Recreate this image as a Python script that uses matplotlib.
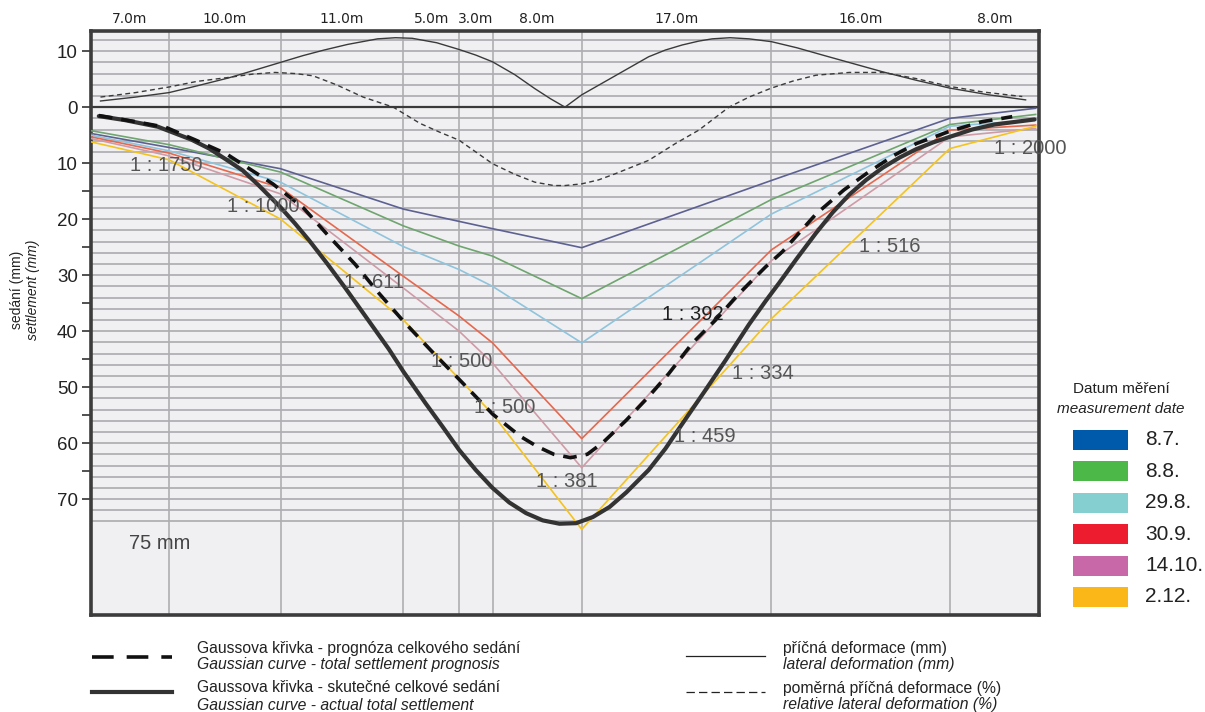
import matplotlib
matplotlib.use("Agg")
import matplotlib.pyplot as plt
import matplotlib.transforms as mtransforms
from matplotlib.lines import Line2D
from matplotlib.patches import Rectangle
import numpy as np

# segment lengths between measuring points (labels above the plot)
segment_lengths = [7.0, 10.0, 11.0, 5.0, 3.0, 8.0, 17.0, 16.0, 8.0]

# settlement (mm) of the dated measurements at the measuring points (m)
meas_x = [0, 7, 17, 28, 33, 36, 44, 61, 77, 84.7]
settle_0807 = [4.7, 7.2, 11.0, 18.2, 20.4, 21.7, 25.1, 13.1, 2.0, 0.2]
settle_0808 = [4.2, 6.7, 11.6, 21.2, 24.8, 26.6, 34.2, 16.5, 3.1, 1.3]
settle_2908 = [5.0, 7.8, 13.4, 24.9, 29.0, 32.0, 42.1, 19.1, 3.4, 2.3]
settle_3009 = [5.3, 8.2, 14.4, 30.2, 37.3, 42.1, 59.2, 25.5, 4.1, 3.2]
settle_1410 = [5.6, 8.7, 15.5, 32.3, 40.0, 45.7, 64.4, 27.4, 5.3, 3.8]
settle_0212 = [6.2, 9.4, 20.0, 38.0, 48.5, 54.8, 75.4, 37.8, 7.4, 3.4]
dates = ["8.7.", "8.8.", "29.8.", "30.9.", "14.10.", "2.12."]

# Gaussian curve - actual total settlement
actual_x = [0.7, 3, 6, 9, 10.6, 12, 13.6, 15, 17, 18.3, 19.6, 21.2, 22.8, 24.7,
            26.7, 28, 30, 31.5, 33, 34.5, 36, 37.5, 39, 40.5, 42, 43.5, 45, 46.5,
            48, 50, 51.5, 53, 55, 56.9, 59, 60.5, 61.7, 63.3, 65, 66.5, 68, 69.5,
            71, 72.5, 74, 75.5, 77, 79, 81, 84.6]
actual_y = [1.6, 2.3, 3.5, 5.8, 7.4, 9.2, 11.3, 13.9, 17.9, 20.8, 23.9, 28.0, 32.3,
            37.6, 43.2, 47.2, 52.9, 57.0, 61.2, 64.8, 68.0, 70.6, 72.5, 73.8, 74.4,
            74.3, 73.2, 71.4, 68.8, 64.8, 61.0, 56.6, 50.8, 45.2, 38.8, 34.6, 31.4,
            27.0, 22.5, 18.8, 15.6, 13.0, 10.8, 9.0, 7.5, 6.3, 5.3, 4.0, 3.1, 2.2]

# Gaussian curve - total settlement prognosis
prog_x = [0.7, 4, 6.7, 9.4, 12.1, 14.2, 16.3, 19, 21.3, 23.7, 25.8, 28, 30.5, 33,
          36, 38.5, 40, 41.5, 43, 44.5, 45.9, 48, 50, 51.8, 53.9, 56, 58.1, 60.5,
          62, 65, 67.5, 69.5, 72, 74, 77, 79.9, 82.6]
prog_y = [1.5, 2.6, 3.6, 5.9, 8.3, 11.0, 13.7, 17.9, 23.0, 28.1, 33.2, 38.2, 43.5,
          48.6, 54.8, 58.8, 60.6, 62.0, 62.6, 62.0, 59.9, 55.9, 51.7, 47.6, 42.2,
          38.0, 33.3, 28.5, 25.8, 19.1, 14.8, 11.9, 8.6, 6.5, 4.3, 2.6, 1.7]

# lateral deformation (mm, upward)
lat_x = [0.85, 4, 7, 9.5, 12.3, 14.5, 17, 19, 20.9, 23, 25.7, 27.3, 28.8, 31, 33,
         34.5, 36, 38, 39.8, 41.2, 42.5, 44, 47, 50, 51.5, 53, 54.5, 55.7, 57.3,
         59, 61, 63.3, 65.6, 68.3, 71, 74, 77, 80.5, 83.8]
lat_y = [1.1, 1.8, 2.6, 3.8, 5.2, 6.5, 8.0, 9.2, 10.2, 11.2, 12.2, 12.4, 12.3, 11.5,
         10.3, 9.3, 8.1, 5.8, 3.3, 1.5, 0.0, 2.2, 5.6, 9.0, 10.2, 11.1, 11.8, 12.2,
         12.4, 12.2, 11.7, 10.6, 9.3, 7.8, 6.3, 4.8, 3.4, 2.2, 1.3]

# relative lateral deformation (%)
rel_x = [0.85, 4, 7, 9.5, 12.3, 14.5, 16.5, 18.3, 19.9, 22, 24.4, 27.1, 29.5, 31.3,
         33, 34.5, 36, 38, 39.8, 41.5, 42.5, 44, 45.5, 47, 50, 52.4, 54.5, 57.2,
         59, 61, 63, 65, 68, 71, 74, 77, 80, 83.5]
rel_y = [1.8, 2.6, 3.6, 4.6, 5.3, 5.9, 6.2, 6.0, 5.6, 4.0, 1.8, 0.0, -2.9, -4.5,
         -5.9, -8.0, -10.1, -12.0, -13.4, -14.0, -14.0, -13.7, -13.0, -11.9, -9.5,
         -6.5, -4.1, 0.0, 1.8, 3.4, 4.7, 5.7, 6.2, 6.2, 5.1, 3.7, 2.7, 1.9]

ratio_labels = ["1 : 1750", "1 : 1000", "1 : 611", "1 : 500", "1 : 500", "1 : 381",
                "1 : 392", "1 : 334", "1 : 459", "1 : 516", "1 : 2000"]


def main():
    plt.rcParams.update({
        "font.family": ["Liberation Sans", "DejaVu Sans"],
        "figure.facecolor": "white",
    })
    W, H = 1205, 712
    fig = plt.figure(figsize=(W / 100, H / 100), dpi=100)
    ax_l, ax_r, ax_t, ax_b = 91, 1039, 31, 615
    ax = fig.add_axes([ax_l / W, 1 - ax_b / H, (ax_r - ax_l) / W, (ax_b - ax_t) / H])
    ax.set_facecolor("#f0f0f2")

    ax.set_xlim(0, 85)
    ax.set_ylim(90.7, -13.6)

    # grid
    for gy in np.arange(-12, 75, 2):
        ax.axhline(gy, color="#b3b3b7", lw=1.35, zorder=1)
    bounds = np.cumsum(segment_lengths)
    for bx in bounds[:-1]:
        ax.axvline(bx, color="#aeaeb2", lw=1.2, zorder=1)
    ax.axhline(0, color="#3a3a3a", lw=1.6, zorder=2)

    # dated measurements
    series = [settle_0807, settle_0808, settle_2908, settle_3009, settle_1410, settle_0212]
    line_colors = ["#5d6192", "#6fa56f", "#8fc4dc", "#e6684e", "#cf9ba7", "#f5c31e"]
    for vals, c in zip(series, line_colors):
        ax.plot(meas_x, vals, color=c, lw=1.2, zorder=3)

    # lateral deformation curves (plotted upward)
    ax.plot(lat_x, -np.array(lat_y), color="#3a3a3a", lw=1.0, zorder=3)
    ax.plot(rel_x, -np.array(rel_y), color="#3a3a3a", lw=1.0,
            linestyle=(0, (3.5, 2.5)), zorder=3)

    # gaussian curves
    ax.plot(actual_x, actual_y, color="#333333", lw=3.0, zorder=4,
            solid_capstyle="round", solid_joinstyle="round")
    ax.plot(prog_x, prog_y, color="#111111", lw=2.6, linestyle=(0, (3.8, 2.5)), zorder=5)

    # ratio labels
    label_pos = [(3.5, 10.5), (12.2, 17.7), (22.7, 31.4), (30.5, 45.5), (34.3, 53.6),
                 (39.9, 66.8), (51.2, 37.0), (57.5, 47.5), (52.3, 58.8), (68.9, 24.8),
                 (81.0, 7.3)]
    for txt, (lx, ly) in zip(ratio_labels, label_pos):
        col = "#1e1e1e" if txt == "1 : 392" else "#555555"
        ax.text(lx, ly, txt, fontsize=14.5, color=col, ha="left", va="center",
                zorder=6, clip_on=False)
    ax.text(3.4, 77.9, "75 mm", fontsize=14.5, color="#444444", ha="left", va="center")

    # y axis
    ax.set_yticks(np.arange(-10, 71, 10))
    ax.set_yticklabels([str(abs(v)) for v in range(-10, 71, 10)])
    ax.set_yticks(np.arange(15, 66, 10), minor=True)
    ax.tick_params(axis="y", which="both", direction="out", length=6.5, width=1.2,
                   color="#333333", labelsize=13.5, labelcolor="#222222", pad=3)
    ax.set_xticks([])
    for s in ax.spines.values():
        s.set_linewidth(2.6)
        s.set_color("#3c3c3c")

    # segment lengths on top
    trans = mtransforms.blended_transform_factory(ax.transData, ax.transAxes)
    starts = np.concatenate([[0], bounds[:-1]])
    for s0, s1, L in zip(starts, bounds, segment_lengths):
        ax.text((s0 + s1) / 2, 1 + 12 / (ax_b - ax_t), f"{L:.1f}m", transform=trans,
                ha="center", va="center", fontsize=10, family="DejaVu Sans",
                color="#222222")

    # y labels
    fig.text(17 / W, 1 - 290 / H, "sedání (mm)", rotation=90, ha="center", va="center",
             fontsize=10, color="#222222")
    fig.text(33 / W, 1 - 290 / H, "settlement (mm)", rotation=90, ha="center",
             va="center", fontsize=10, style="italic", color="#222222")

    # date legend
    legend_colors = ["#005aab", "#4cb848", "#85cfd0", "#ed1c2e", "#c868a8", "#fbb617"]
    fig.text(1121 / W, 1 - 389 / H, "Datum měření", ha="center", va="center",
             fontsize=11, color="#222222")
    fig.text(1121 / W, 1 - 409 / H, "measurement date", ha="center", va="center",
             fontsize=11, style="italic", color="#222222")
    for i, (d, c) in enumerate(zip(dates, legend_colors)):
        top = 430 + i * 31.4
        fig.add_artist(Rectangle((1073 / W, 1 - (top + 20) / H), 55 / W, 20 / H,
                                 transform=fig.transFigure, facecolor=c,
                                 edgecolor="none"))
        fig.text(1145 / W, 1 - (top + 10) / H, d, ha="left", va="center",
                 fontsize=15, color="#222222")

    # line legend at the bottom
    def hline(x0, x1, y, **kw):
        fig.add_artist(Line2D([x0 / W, x1 / W], [1 - y / H, 1 - y / H],
                              transform=fig.transFigure, **kw))

    hline(92, 172, 657, color="#111111", lw=2.6, linestyle=(0, (6, 3.6)))
    hline(92, 172, 692, color="#333333", lw=3.0)
    hline(686, 765, 656, color="#222222", lw=0.9)
    hline(686, 765, 692, color="#222222", lw=0.9, linestyle=(0, (6.7, 3.3)))
    legend_rows = [
        (197, 648, "Gaussova křivka - prognóza celkového sedání", "normal"),
        (197, 665, "Gaussian curve - total settlement prognosis", "italic"),
        (197, 688, "Gaussova křivka - skutečné celkové sedání", "normal"),
        (197, 705, "Gaussian curve - actual total settlement", "italic"),
        (783, 648, "příčná deformace (mm)", "normal"),
        (783, 665, "lateral deformation (mm)", "italic"),
        (783, 688, "poměrná příčná deformace (%)", "normal"),
        (783, 705, "relative lateral deformation (%)", "italic"),
    ]
    for x, y, txt, st in legend_rows:
        fig.text(x / W, 1 - y / H, txt, ha="left", va="center", fontsize=11.3,
                 style=st, color="#222222")

    fig.savefig("out.png", dpi=100)


if __name__ == "__main__":
    main()
